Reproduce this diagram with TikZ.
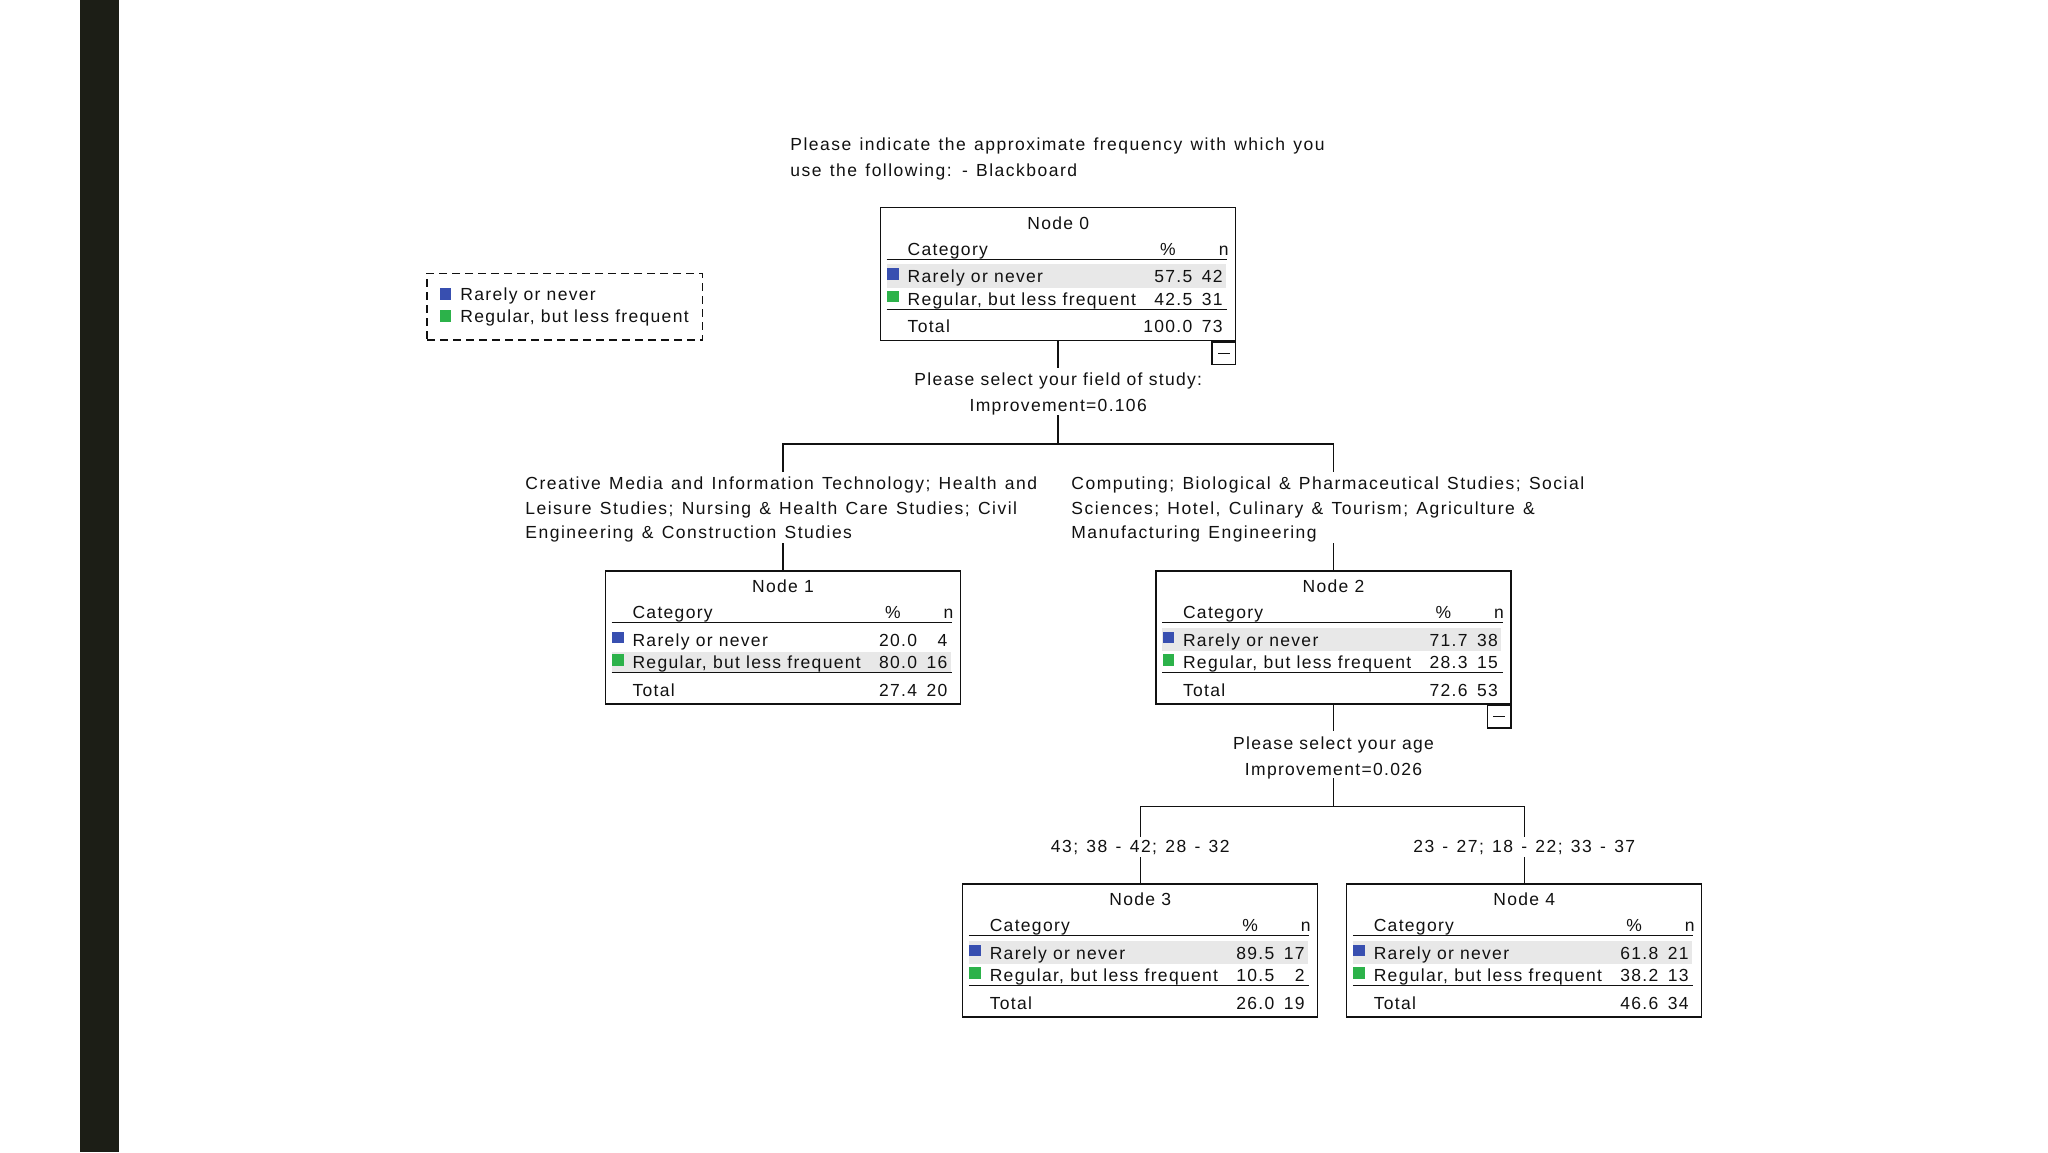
\documentclass[tikz,border=0pt]{standalone}
\usepackage{fontspec}
\setmainfont{Liberation Sans}[LetterSpace=7.5]
\newfontfamily\widefont{Liberation Sans}[LetterSpace=8.5,WordSpace=1.3]
\definecolor{blueC}{RGB}{56,79,176}
\definecolor{greenC}{RGB}{44,178,74}
\definecolor{rowgray}{RGB}{232,232,232}
\definecolor{barC}{RGB}{28,30,22}
\definecolor{inkC}{RGB}{17,17,17}
\newcommand\tf{\fontsize{8.75}{10.5}\selectfont}
\newcommand\wf{\widefont\fontsize{8.75}{10.5}\selectfont}
\newif\ifhlfirst
% #1 id, #2 centre x, #3 top y, #4 p1, #5 n1, #6 p2, #7 n2, #8 ptot, #9 ntot
\newcommand\treenode[9]{%
  \pgfmathsetmacro\nL{#2-177.5}%
  \pgfmathsetmacro\nR{#2+177.5}%
  \ifhlfirst
    \fill[rowgray] (\nL+6,#3+56.5) rectangle (\nR-10,#3+80);
  \else
    \fill[rowgray] (\nL+6,#3+80.5) rectangle (\nR-10,#3+101);
  \fi
  \node[box] (n#1) at (#2,#3+66.5) {};
  \draw[rule] (\nL+6,#3+51.6) -- (\nR-8.4,#3+51.6);
  \draw[rule] (\nL+6,#3+101.6) -- (\nR-8.4,#3+101.6);
  \node[tx,anchor=base] (n#1t) at (#2,#3+21.6) {Node #1};
  \node[tx,anchor=base west] (n#1c) at (\nL+26.6,#3+47.3) {Category};
  \node[tx,anchor=base] (n#1ph) at (\nR-67.7,#3+47.3) {\%};
  \node[tx,anchor=base east] (n#1nh) at (\nR-6.7,#3+47.3) {n};
  \node[sq,fill=blueC] (n#1s1) at (\nL+12.3,#3+66.3) {};
  \node[sq,fill=greenC] (n#1s2) at (\nL+12.3,#3+88.8) {};
  \node[tx,anchor=base west] (n#1r1) at (\nL+26.6,#3+75) {Rarely or never};
  \node[tx,anchor=base east] (n#1p1) at (\nR-43,#3+75) {#4};
  \node[tx,anchor=base east] (n#1m1) at (\nR-12.7,#3+75) {#5};
  \node[tx,anchor=base west] (n#1r2) at (\nL+26.6,#3+97.3) {Regular, but less frequent};
  \node[tx,anchor=base east] (n#1p2) at (\nR-43,#3+97.3) {#6};
  \node[tx,anchor=base east] (n#1m2) at (\nR-12.7,#3+97.3) {#7};
  \node[tx,anchor=base west] (n#1tt) at (\nL+26.6,#3+125) {Total};
  \node[tx,anchor=base east] (n#1p3) at (\nR-43,#3+125) {#8};
  \node[tx,anchor=base east] (n#1m3) at (\nR-12.7,#3+125) {#9};
}
\begin{document}
\begin{tikzpicture}[x=0.5pt,y=-0.5pt,
  tx/.style={inner sep=0pt,font=\tf,text=inkC},
  wtx/.style={inner sep=0pt,font=\wf,text=inkC},
  box/.style={draw=inkC,line width=0.7pt,minimum width=177.5pt,minimum height=66.5pt,inner sep=0pt},
  rule/.style={draw=inkC,line width=0.7pt},
  link/.style={draw=inkC,line width=0.75pt},
  sq/.style={inner sep=0pt,minimum size=5.75pt},
  minusbox/.style={draw=inkC,line width=0.7pt,minimum width=11.85pt,minimum height=11.3pt,inner sep=0pt,anchor=north east},
  legendbox/.style={draw=inkC,line width=0.7pt,dash pattern=on 4pt off 2.5pt,minimum width=137.85pt,minimum height=33.35pt,inner sep=0pt}]
\useasboundingbox (0,0) rectangle (2048,1152);
\fill[white] (0,0) rectangle (2048,1152);
\fill[barC] (80,0) rectangle (119.3,1152);

% title
\node[wtx,anchor=base west] (title1) at (790,150) {Please indicate the approximate frequency with which you};
\node[wtx,anchor=base west] (title2) at (790,176) {use the following: - Blackboard};

% legend
\node[legendbox] (leg) at (564.85,306.65) {};
\node[sq,fill=blueC] (legs1) at (445.5,294.2) {};
\node[sq,fill=greenC] (legs2) at (445.5,316.2) {};
\node[tx,anchor=base west] (legt1) at (460,300.7) {Rarely or never};
\node[tx,anchor=base west] (legt2) at (460,322.7) {Regular, but less frequent};

% nodes
\hlfirsttrue
\treenode{0}{1058.2}{207.7}{57.5}{42}{42.5}{31}{100.0}{73}
\hlfirstfalse
\treenode{1}{783}{571}{20.0}{4}{80.0}{16}{27.4}{20}
\hlfirsttrue
\treenode{2}{1333.5}{571}{71.7}{38}{28.3}{15}{72.6}{53}
\treenode{3}{1140.25}{884}{89.5}{17}{10.5}{2}{26.0}{19}
\treenode{4}{1524.25}{884}{61.8}{21}{38.2}{13}{46.6}{34}

% minus boxes
\node[minusbox] (n0x) at (n0.south east) {};
\draw[rule] ([xshift=-2.9pt]n0x.center) -- ([xshift=2.9pt]n0x.center);
\node[minusbox] (n2x) at (n2.south east) {};
\draw[rule] ([xshift=-2.9pt]n2x.center) -- ([xshift=2.9pt]n2x.center);

% split labels
\node[tx,anchor=base] (s0a) at (1058.2,385.7) {Please select your field of study:};
\node[tx,anchor=base] (s0b) at (1058.2,411.7) {Improvement=0.106};
\node[tx,anchor=base] (s2a) at (1333.5,749.3) {Please select your age};
\node[tx,anchor=base] (s2b) at (1333.5,775.3) {Improvement=0.026};

% branch labels
\node[wtx,anchor=base west] (l1a) at (525,489.3) {Creative Media and Information Technology; Health and};
\node[wtx,anchor=base west] (l1b) at (525,514.3) {Leisure Studies; Nursing \& Health Care Studies; Civil};
\node[wtx,anchor=base west] (l1c) at (525,538.3) {Engineering \& Construction Studies};
\node[wtx,anchor=base west] (l2a) at (1071,489.3) {Computing; Biological \& Pharmaceutical Studies; Social};
\node[wtx,anchor=base west] (l2b) at (1071,514.3) {Sciences; Hotel, Culinary \& Tourism; Agriculture \&};
\node[wtx,anchor=base west] (l2c) at (1071,538.3) {Manufacturing Engineering};
\node[wtx,anchor=base] (l3) at (1140.25,852.7) {43; 38 - 42; 28 - 32};
\node[wtx,anchor=base] (l4) at (1524.25,852.7) {23 - 27; 18 - 22; 33 - 37};

% connector points
\coordinate (q0top) at (1058.2,368);
\coordinate (q0bot) at (1058.2,415);
\coordinate (bar0m) at (1058.2,444);
\coordinate (bar0l) at (783,444);
\coordinate (bar0r) at (1333.5,444);
\coordinate (c1top) at (783,472);
\coordinate (c2top) at (1333.5,472);
\coordinate (c1bot) at (783,543);
\coordinate (c2bot) at (1333.5,543);
\coordinate (q2top) at (1333.5,731.3);
\coordinate (q2bot) at (1333.5,778.3);
\coordinate (bar2m) at (1333.5,806.7);
\coordinate (bar2l) at (1140.25,806.7);
\coordinate (bar2r) at (1524.25,806.7);
\coordinate (c3top) at (1140.25,836.7);
\coordinate (c4top) at (1524.25,836.7);
\coordinate (c3bot) at (1140.25,857.3);
\coordinate (c4bot) at (1524.25,857.3);

% connectors
\draw[link] (n0.south) -- (q0top);
\draw[link] (q0bot) -- (bar0m);
\draw[link] (c1top) -- (bar0l) -- (bar0r) -- (c2top);
\draw[link] (c1bot) -- (n1.north);
\draw[link] (c2bot) -- (n2.north);
\draw[link] (n2.south) -- (q2top);
\draw[link] (q2bot) -- (bar2m);
\draw[link] (c3top) -- (bar2l) -- (bar2r) -- (c4top);
\draw[link] (c3bot) -- (n3.north);
\draw[link] (c4bot) -- (n4.north);
\end{tikzpicture}
\end{document}
